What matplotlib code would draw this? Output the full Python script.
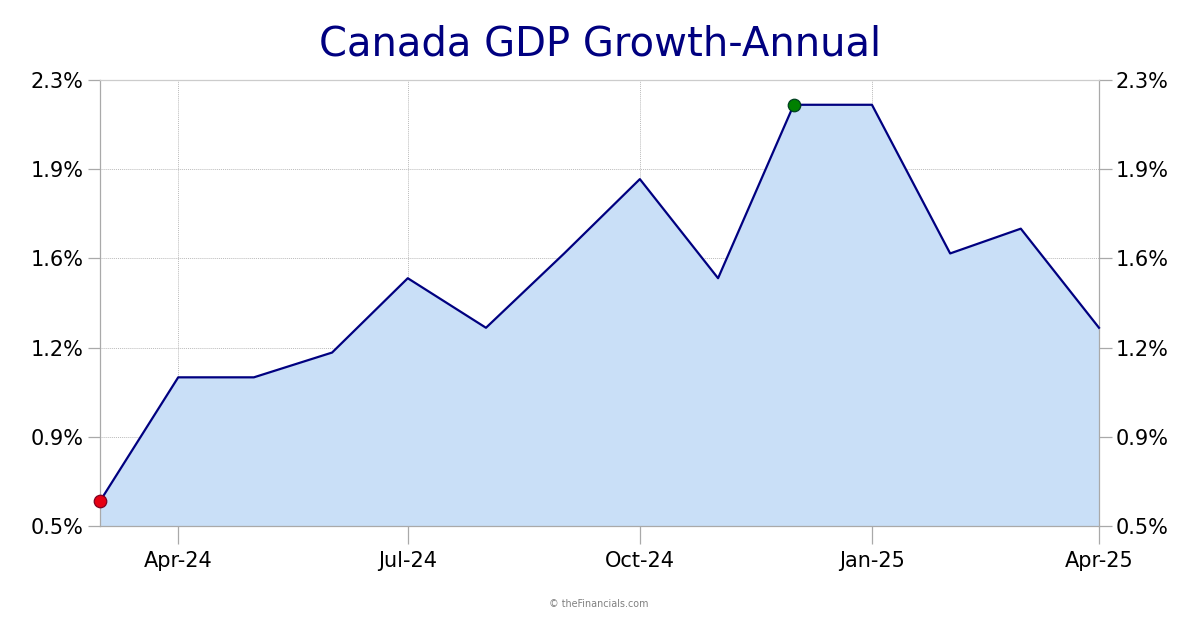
"""Canada GDP growth, annual: filled line chart with min and max markers."""

import matplotlib
matplotlib.use("Agg")
import matplotlib.pyplot as plt
import numpy as np

# ---------------------------------------------------------------------------
# Data
# ---------------------------------------------------------------------------

months = ["2024-03-01", "2024-04-01", "2024-05-01", "2024-06-01", "2024-07-01",
          "2024-08-01", "2024-09-01", "2024-10-01", "2024-11-01", "2024-12-01",
          "2025-01-01", "2025-02-01", "2025-03-01", "2025-04-01"]
growth = [0.6, 1.1, 1.1, 1.2, 1.5, 1.3, 1.6, 1.9, 1.5, 2.2, 2.2, 1.6, 1.7, 1.3]

x_tick_months = ["2024-04-01", "2024-07-01", "2024-10-01", "2025-01-01", "2025-04-01"]
x_tick_labels = ["Apr-24", "Jul-24", "Oct-24", "Jan-25", "Apr-25"]
y_ticks = [0.5, 0.86, 1.22, 1.58, 1.94, 2.3]
y_tick_labels = ["0.5%", "0.9%", "1.2%", "1.6%", "1.9%", "2.3%"]

low_month, low_value = "2024-03-01", 0.6
high_month, high_value = "2024-12-01", 2.2

# ---------------------------------------------------------------------------
# Plot
# ---------------------------------------------------------------------------

W, H = 1200, 630
NAVY = "#000080"
AXIS_GREY = "#a9a9a9"

fig = plt.figure(figsize=(W / 100, H / 100), dpi=100)
ax = fig.add_axes([100 / W, 1 - 526 / H, 999 / W, 446 / H])

dates = np.array(months, dtype="datetime64[D]")
ax.fill_between(dates, growth, 0.5, color="#c9dff7", linewidth=0, zorder=2)
ax.plot(dates, growth, color=NAVY, linewidth=1.6, zorder=3, clip_on=False)

ax.plot(np.datetime64(low_month), low_value, "o", ms=9, mfc="#e60012",
        mec="#800020", mew=0.9, zorder=5, clip_on=False)
ax.plot(np.datetime64(high_month), high_value, "o", ms=9, mfc="#008000",
        mec="#004020", mew=0.9, zorder=5, clip_on=False)

ax.set_xlim(dates[0], dates[-1])
ax.set_ylim(0.5, 2.3)

ax.set_xticks(np.array(x_tick_months, dtype="datetime64[D]"))
ax.set_xticklabels(x_tick_labels)
ax.set_yticks(y_ticks)
ax.set_yticklabels(y_tick_labels)

ax.tick_params(axis="x", length=13, width=0.9, color=AXIS_GREY, pad=5,
               labelsize=15, labelcolor="black")
ax.tick_params(axis="y", length=9, width=0.9, color=AXIS_GREY, pad=3,
               labelsize=15, labelcolor="black",
               left=True, right=True, labelleft=True, labelright=True)

ax.grid(True, color="#bbbbbb", linestyle=(0, (1, 1)), linewidth=0.7, zorder=1)
ax.set_axisbelow(True)

for side in ("left", "right", "bottom", "top"):
    ax.spines[side].set_color(AXIS_GREY)
    ax.spines[side].set_linewidth(0.9)
ax.spines["top"].set_color("#cccccc")

fig.text(600 / W, 1 - 45 / H, "Canada GDP Growth-Annual", color=NAVY,
         fontsize=28.9, ha="center", va="center")
fig.text(599 / W, 1 - 604 / H, "© theFinancials.com", color="#808080",
         fontsize=6.9, ha="center", va="center")

fig.savefig("out.png", dpi=100)
